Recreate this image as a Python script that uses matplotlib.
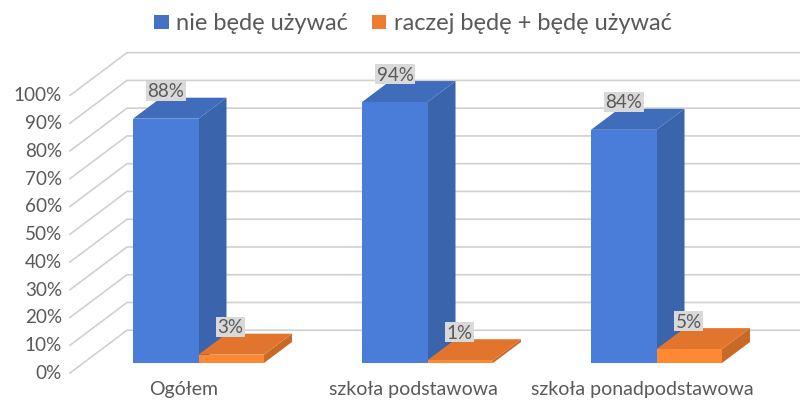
import matplotlib
matplotlib.use('Agg')
import matplotlib.pyplot as plt
from matplotlib.patches import Polygon, Rectangle

categories = ['Ogółem', 'szkoła podstawowa', 'szkoła ponadpodstawowa']
nie_bede = [88, 94, 84]
raczej_bede = [3, 1, 5]
ticks = list(range(0, 101, 10))
legend_labels = ['nie będę używać', 'raczej będę + będę używać']

plt.rcParams['font.family'] = ['Lato', 'DejaVu Sans']
TEXT = '#595959'
GRID = '#d0d0d0'

W, H = 800, 402
PX_PER_PCT = 2.776
Y0 = 364  # pixel row of 0% on the front of the bars
BLUE = ('#4a7dd9', '#3f6cbb', '#3a64ab')
ORANGE = ('#ff8833', '#e2752d', '#c76a28')

fig = plt.figure(figsize=(W / 100, H / 100), dpi=100)
ax = fig.add_axes([0, 0, 1, 1])
# x in pixels, y in percent
ax.set_xlim(0, W)
ax.set_ylim(-(H - Y0) / PX_PER_PCT, Y0 / PX_PER_PCT)
ax.axis('off')


# depth of the bars and of the floor, y part in percent
def depth(px):
    return px * 21 / 28 / PX_PER_PCT


# 3d looking bar: front, top and side faces
def bar3d(x0, x1, value, colors):
    dx = 28
    dy = depth(dx)
    ax.add_patch(Polygon([(x1, 0), (x1 + dx, dy), (x1 + dx, value + dy), (x1, value)], color=colors[2], lw=0, zorder=3))
    ax.add_patch(Polygon([(x0, value), (x1, value), (x1 + dx, value + dy), (x0 + dx, value + dy)], color=colors[1], lw=0, zorder=3))
    ax.add_patch(Rectangle((x0, 0), x1 - x0, value, color=colors[0], lw=0, zorder=4))


# gridlines on the floor edge and back wall
front_off = -10 / PX_PER_PCT
for t in ticks:
    y_front = t + front_off
    y_back = y_front + depth(57)
    ax.plot([70, 127, 800], [y_front, y_back, y_back], color=GRID, lw=1.2, zorder=1)
    ax.text(62, y_front + 0.2, f'{t}%', ha='right', va='center', fontsize=13.6, color=TEXT, zorder=6)

starts = [133, 362, 591]
bar_w = 65.5
for i, cat in enumerate(categories):
    x0 = starts[i]
    bar3d(x0, x0 + bar_w, nie_bede[i], BLUE)
    bar3d(x0 + bar_w, x0 + 2 * bar_w, raczej_bede[i], ORANGE)
    ax.text(x0 + 51, -(390 - Y0) / PX_PER_PCT, cat, ha='center', va='center', fontsize=14, color=TEXT)
    for x, v in [(x0 + 33, nie_bede[i]), (x0 + bar_w + 32, raczej_bede[i])]:
        ax.text(x, v + depth(21) + 4.4, f'{v}%', ha='center', va='center', fontsize=13.5, color=TEXT, zorder=7,
                bbox=dict(facecolor='#d9d9d9', edgecolor='none', pad=1.2))


# legend drawn by hand to keep the spacing of the original
def legend_item(x, color, label):
    y = (Y0 - 23) / PX_PER_PCT
    ax.add_patch(Rectangle((x, y - 2.7), 14.5, 5.4, color=color, lw=0))
    ax.text(x + 22, y, label, ha='left', va='center', fontsize=17, color=TEXT)


legend_item(154, '#4472c4', legend_labels[0])
legend_item(371.5, '#ed7d31', legend_labels[1])

fig.savefig('out.png', dpi=100)
